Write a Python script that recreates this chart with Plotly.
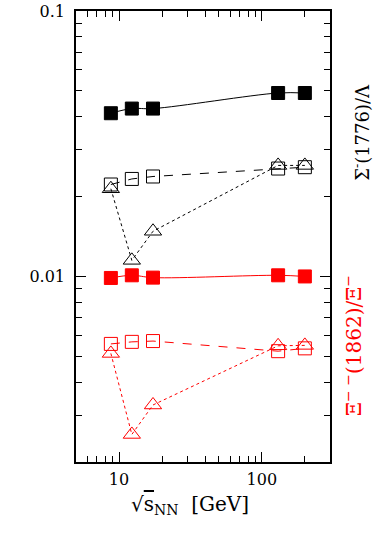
import math
import plotly.graph_objects as go

# ---- data ----
energy = [8.77, 12.3, 17.3, 130, 200]

sigma_filled = [0.0412, 0.0429, 0.0429, 0.0491, 0.0491]
sigma_open_sq = [0.0222, 0.0233, 0.0238, 0.0255, 0.0258]
sigma_open_tri = [0.0214, 0.0115, 0.0148, 0.0262, 0.0262]

xi_filled = [0.00987, 0.0101, 0.0099, 0.0101, 0.0100]
xi_open_sq = [0.00557, 0.00567, 0.00571, 0.00523, 0.00536]
xi_open_tri = [0.00513, 0.00254, 0.00328, 0.00548, 0.0055]

x_major = [10, 100]
x_major_text = ["10", "100"]
x_minor = [6, 7, 8, 9, 20, 30, 40, 50, 60, 70, 80, 90, 200]
y_major = [0.01, 0.1]
y_major_text = ["0.01", "0.1"]
y_minor = [0.003, 0.004, 0.005, 0.006, 0.007, 0.008, 0.009,
           0.02, 0.03, 0.04, 0.05, 0.06, 0.07, 0.08, 0.09]

label_sigma = "Σ<sup>-</sup>(1776)/Λ"
label_xi = "Ξ<sup>− −</sup>(1862)/Ξ<sup>−</sup>"
x_title = '√<span style="text-decoration:overline">s</span><sub>NN</sub>  [GeV]'

BLACK = "#000000"
RED = "#ff0000"
FONT = "DejaVu Serif"

fig = go.Figure()


def add_series(y, color, symbol, dash, shape):
    fig.add_trace(go.Scatter(
        x=energy, y=y, mode="lines+markers",
        line=dict(color=color, width=1, dash=dash, shape=shape, smoothing=1.0),
        marker=dict(symbol=symbol, size=13 if "square" in symbol else 15,
                    color=color, line=dict(color=color, width=1)),
        showlegend=False,
    ))


add_series(sigma_open_sq, BLACK, "square-open", "dash", "linear")
add_series(sigma_open_tri, BLACK, "triangle-up-open", "dot", "linear")
add_series(sigma_filled, BLACK, "square", "solid", "spline")
add_series(xi_open_sq, RED, "square-open", "dash", "linear")
add_series(xi_open_tri, RED, "triangle-up-open", "dot", "linear")
add_series(xi_filled, RED, "square", "solid", "spline")

xr = [math.log10(5), math.log10(300)]
yr = [math.log10(0.002), math.log10(0.1)]

common = dict(showgrid=False, zeroline=False, showline=True, linecolor=BLACK,
              linewidth=1.5, ticks="inside", tickcolor=BLACK, tickwidth=1,
              mirror="allticks", automargin=False, ticklen=10,
              tickfont=dict(family=FONT, size=16, color=BLACK))

fig.update_layout(
    width=382, height=546,
    margin=dict(l=76, r=52, t=11, b=84, autoexpand=False),
    paper_bgcolor="white", plot_bgcolor="white",
    font=dict(family=FONT, color=BLACK, size=16),
    xaxis=dict(type="log", range=xr, tickvals=x_major, ticktext=x_major_text,
               ticklabelstandoff=2,
               minor=dict(tickvals=x_minor, ticklen=6, ticks="inside",
                          tickcolor=BLACK, tickwidth=1, showgrid=False),
               **common),
    yaxis=dict(type="log", range=yr, tickvals=y_major, ticktext=y_major_text,
               ticklabelstandoff=6,
               minor=dict(tickvals=y_minor, ticklen=6, ticks="inside",
                          tickcolor=BLACK, tickwidth=1, showgrid=False),
               **common),
)

fig.add_annotation(
    x=0.449, y=-0.095, xref="paper", yref="paper", xanchor="center", yanchor="middle",
    text=x_title, showarrow=False, font=dict(family=FONT, size=20, color=BLACK),
)
fig.add_annotation(
    x=1.122, y=0.732, xref="paper", yref="paper", xanchor="center", yanchor="middle",
    text=label_sigma, textangle=-90, showarrow=False,
    font=dict(family=FONT, size=18, color=BLACK),
)
fig.add_annotation(
    x=1.09, y=0.259, xref="paper", yref="paper", xanchor="center", yanchor="middle",
    text=label_xi, textangle=-90, showarrow=False,
    font=dict(family=FONT, size=20, color=RED),
)

fig.write_html("out.html",
               config={"displayModeBar": False},
               post_script="document.body.style.margin='0px';")
